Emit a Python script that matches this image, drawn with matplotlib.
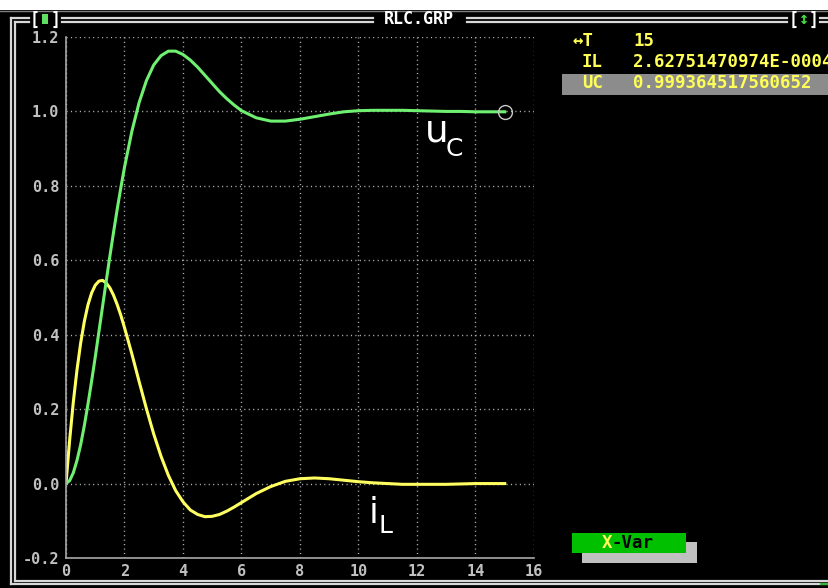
import matplotlib
matplotlib.use("Agg")
import matplotlib.pyplot as plt
from matplotlib.patches import Rectangle

# values (T = time, IL = coil current, UC = capacitor voltage)
T = [0.0, 0.125, 0.25, 0.375, 0.5, 0.625, 0.75, 0.875, 1.0, 1.125, 1.25,
     1.375, 1.5, 1.625, 1.75, 1.875, 2.0, 2.25, 2.5, 2.75, 3.0,
     3.25, 3.5, 3.75, 4.0, 4.25, 4.5, 4.75, 5.0, 5.25, 5.5, 5.75, 6.0,
     6.5, 7.0, 7.5, 8.0, 8.5, 9.0, 9.5, 10.0, 10.5, 11.0, 11.5, 12.0,
     12.5, 13.0, 13.5, 14.0, 14.5, 15.0]
IL = [0.000, 0.117, 0.219, 0.305, 0.377, 0.435, 0.480, 0.512, 0.533, 0.544,
      0.546, 0.539, 0.526, 0.506, 0.481, 0.452, 0.419, 0.349,
      0.274, 0.201, 0.133, 0.073, 0.022, -0.019, -0.049, -0.071, -0.083,
      -0.089, -0.088, -0.083, -0.074, -0.063, -0.051, -0.027, -0.008, 0.006,
      0.013, 0.015, 0.013, 0.009, 0.005, 0.002, 0.000, -0.002, -0.002,
      -0.002, -0.002, -0.001, 0.000, 0.000, 0.000]
UC = [0.000, 0.008, 0.029, 0.062, 0.104, 0.155, 0.213, 0.275, 0.340, 0.408,
      0.476, 0.544, 0.611, 0.675, 0.737, 0.795, 0.850, 0.946,
      1.024, 1.083, 1.125, 1.150, 1.162, 1.162, 1.153, 1.138, 1.119, 1.097,
      1.075, 1.053, 1.034, 1.017, 1.002, 0.983, 0.974, 0.974, 0.979, 0.986,
      0.993, 0.999, 1.002, 1.003, 1.003, 1.003, 1.002, 1.001, 1.000, 1.000,
      0.999, 0.999, 0.999]

x_ticks = [0, 2, 4, 6, 8, 10, 12, 14, 16]
y_ticks = [-0.2, 0.0, 0.2, 0.4, 0.6, 0.8, 1.0, 1.2]
y_labels = ["-0.2", "0.0", "0.2", "0.4", "0.6", "0.8", "1.0", "1.2"]

cursor_rows = [("\u2194T", "15"),
               ("IL", "2.62751470974E-0004"),
               ("UC", "0.999364517560652")]

W, H = 829, 588
MONO = "DejaVu Sans Mono"
GREEN = "#70f070"
YELLOW = "#ffff60"
TXT_YEL = "#ffff55"
FRAME = "#d8d8d8"
GRID = "#b4b4b4"

fig = plt.figure(figsize=(W / 100, H / 100), dpi=100, facecolor="black")

# ---- plot area
ax = fig.add_axes([66 / W, 1 - 558 / H, (534 - 66) / W, (558 - 37) / H])
ax.set_facecolor("black")
ax.plot(T, IL, color=YELLOW, lw=2.2, solid_joinstyle="round", zorder=3)
ax.plot(T, UC, color=GREEN, lw=2.2, solid_joinstyle="round", zorder=4)
ax.plot([T[-1]], [UC[-1]], "o", ms=10, mfc="none", mec="#c8c8c8", mew=1.0, zorder=5)

ax.set_xlim(0, 16)
ax.set_ylim(-0.2, 1.2)
ax.set_xticks(x_ticks)
ax.set_xticklabels([str(v) for v in x_ticks])
ax.set_yticks(y_ticks)
ax.set_yticklabels(y_labels)
ax.tick_params(length=0, colors="#c0c0c0", labelsize=11)
ax.tick_params(axis="x", pad=4.3)
ax.tick_params(axis="y", pad=5)
for lab in ax.get_xticklabels() + ax.get_yticklabels():
    lab.set_fontfamily(MONO)
    lab.set_fontweight("bold")
ax.grid(True, color=GRID, lw=1.0, linestyle=(0, (0.8, 2.4)))
for side in ["top", "right"]:
    ax.spines[side].set_visible(False)
for side in ["left", "bottom"]:
    ax.spines[side].set_color("#a8a8a8")
    ax.spines[side].set_linewidth(1.2)
    ax.spines[side].set_zorder(6)

# ---- screen overlay in pixel coordinates
ov = fig.add_axes([0, 0, 1, 1], zorder=10)
ov.set_xlim(0, W)
ov.set_ylim(H, 0)
ov.axis("off")

ov.add_patch(Rectangle((0, 0), W, 10, color="white", lw=0))
ov.plot([0, W], [10.5, 10.5], color="#808080", lw=1.0)

lw_f = 1.6
# left double line
ov.plot([11, 11], [18.3, 584], color=FRAME, lw=lw_f)
ov.plot([15, 15], [21.5, 580.5], color=FRAME, lw=lw_f)
# bottom double line
ov.plot([11, W], [584, 584], color=FRAME, lw=lw_f)
ov.plot([15, W], [580.5, 580.5], color=FRAME, lw=lw_f)
ov.plot([821, W], [583.5, 583.5], color="#40b040", lw=1.6)
# top double line, broken by the title and the two buttons
for x0, x1 in [(11, 29), (62, 373), (467, 787), (820, W)]:
    ov.plot([x0, x1], [18.3, 18.3], color=FRAME, lw=lw_f)
for x0, x1 in [(15, 29), (62, 373), (467, 787), (820, W)]:
    ov.plot([x0, x1], [21.5, 21.5], color=FRAME, lw=lw_f)

ov.text(419, 19.5, "RLC.GRP", color="white", family=MONO, fontweight="bold",
        fontsize=12, ha="center", va="center")
ov.text(30, 19.5, "[", color="white", family=MONO, fontweight="bold", fontsize=12, va="center")
ov.add_patch(Rectangle((42, 14), 6.5, 10, color="#60e060", lw=0))
ov.text(51, 19.5, "]", color="white", family=MONO, fontweight="bold", fontsize=12, va="center")
ov.text(789, 19.5, "[", color="white", family=MONO, fontweight="bold", fontsize=12, va="center")
ov.text(799, 19.5, "\u2195", color="#40e040", family=MONO, fontweight="bold", fontsize=12, va="center")
ov.text(809, 19.5, "]", color="white", family=MONO, fontweight="bold", fontsize=12, va="center")

# cursor read-out
ov.add_patch(Rectangle((562, 74), W - 562, 21, color="#8c8c8c", lw=0))
row_y = [41, 62, 83.5]
for (name, val), yy in zip(cursor_rows, row_y):
    ov.text(582 if len(name) == 2 and not name.startswith("\u2194") else 572, yy, name,
            color=TXT_YEL, family=MONO, fontweight="bold", fontsize=12.5, va="center")
    ov.text(633, yy, val, color=TXT_YEL, family=MONO, fontweight="bold",
            fontsize=12.5, va="center")

# X-Var button
ov.add_patch(Rectangle((582, 542), 115, 21, color="#c0c0c0", lw=0))
ov.add_patch(Rectangle((572, 533), 114, 20, color="#00c000", lw=0))
ov.text(602, 543.5, "X", color=TXT_YEL, family=MONO, fontweight="bold", fontsize=12.5, va="center")
ov.text(612, 543.5, "-Var", color="black", family=MONO, fontweight="bold", fontsize=12.5, va="center")

# curve names
ov.text(425, 142, "u", color="white", family="DejaVu Sans", fontsize=27, va="baseline")
ov.text(446, 156, "C", color="white", family="DejaVu Sans", fontsize=18, va="baseline")
ov.text(369, 523, "i", color="white", family="DejaVu Sans", fontsize=25.5, va="baseline")
ov.text(379, 533, "L", color="white", family="DejaVu Sans", fontsize=18, va="baseline")

fig.savefig("out.png", dpi=100, facecolor="black")
